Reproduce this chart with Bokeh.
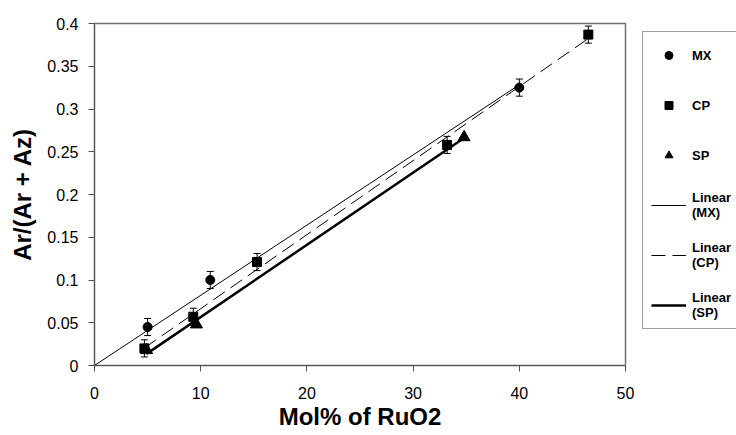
import numpy as np
from bokeh.plotting import figure
from bokeh.layouts import row
from bokeh.models import (ColumnDataSource, Whisker, Legend, LegendItem, FixedTicker,
                          NumeralTickFormatter, TeeHead, Range1d)
from bokeh.embed import file_html
from bokeh.resources import INLINE

# ---- data ----
mx_x = [5.0, 10.9, 40.0]
mx_y = [0.045, 0.100, 0.325]
mx_err = [0.010, 0.010, 0.010]

cp_x = [4.7, 9.3, 15.3, 33.2, 46.5]
cp_y = [0.020, 0.057, 0.121, 0.258, 0.387]
cp_err = [0.010, 0.010, 0.010, 0.010, 0.010]

sp_x = [4.9, 9.6, 34.8]
sp_y = [0.018, 0.048, 0.267]

x_ticks = [0, 10, 20, 30, 40, 50]
y_ticks = [0, 0.05, 0.1, 0.15, 0.2, 0.25, 0.3, 0.35, 0.4]

series_names = ["MX", "CP", "SP"]
fit_names = ["Linear\n(MX)", "Linear\n(CP)", "Linear\n(SP)"]

FONT = "Liberation Sans"

W, H = 736, 435
MAIN_W = 641

p = figure(width=MAIN_W, height=H, output_backend="svg", toolbar_location=None,
           x_range=Range1d(0, 50), y_range=Range1d(0, 0.4),
           min_border_left=94, min_border_right=MAIN_W - 625,
           min_border_top=23, min_border_bottom=H - 365)

p.xgrid.visible = False
p.ygrid.visible = False
p.outline_line_color = "#707070"
p.outline_line_width = 1.5

# axes
p.xaxis.ticker = FixedTicker(ticks=x_ticks)
p.yaxis.ticker = FixedTicker(ticks=y_ticks)
p.yaxis.formatter = NumeralTickFormatter(format="0.[00]")
for ax in (p.xaxis[0], p.yaxis[0]):
    ax.axis_line_color = "#505050"
    ax.major_tick_line_color = "#505050"
    ax.major_tick_in = 0
    ax.major_tick_out = 6
    ax.minor_tick_line_color = None
    ax.major_label_text_font = FONT
    ax.major_label_text_font_size = "16px"
    ax.major_label_text_color = "black"
    ax.axis_label_text_font = FONT
    ax.axis_label_text_font_size = "24px"
    ax.axis_label_text_font_style = "bold"
    ax.axis_label_text_color = "black"
p.xaxis.axis_label = "Mol% of RuO2"
p.yaxis.axis_label = "Ar/(Ar + Az)"
p.xaxis.major_label_standoff = 15
p.xaxis.axis_label_standoff = 1
p.yaxis.major_label_standoff = 10
p.yaxis.axis_label_standoff = 8

# trend lines (least-squares fits of the data)
mx_slope = float(np.dot(mx_x, mx_y) / np.dot(mx_x, mx_x))  # forced through origin
lx_mx = [0.0, max(mx_x)]
ly_mx = [mx_slope * v for v in lx_mx]
cp_fit = np.polyfit(cp_x, cp_y, 1)
lx_cp = [min(cp_x), max(cp_x)]
ly_cp = list(np.polyval(cp_fit, lx_cp))
sp_fit = np.polyfit(sp_x, sp_y, 1)
lx_sp = [min(sp_x), max(sp_x)]
ly_sp = list(np.polyval(sp_fit, lx_sp))

line_styles = [dict(line_width=1), dict(line_width=1, line_dash="14 7"), dict(line_width=2.5)]

p.line(lx_mx, ly_mx, line_color="black", **line_styles[0])
p.line(lx_cp, ly_cp, line_color="black", **line_styles[1])
p.line(lx_sp, ly_sp, line_color="black", **line_styles[2])

# error bars
for xs, ys, es in ((mx_x, mx_y, mx_err), (cp_x, cp_y, cp_err)):
    src = ColumnDataSource(dict(x=xs, lo=[a - b for a, b in zip(ys, es)],
                                hi=[a + b for a, b in zip(ys, es)]))
    w = Whisker(source=src, base="x", lower="lo", upper="hi", dimension="height",
                line_color="black", line_width=1,
                upper_head=TeeHead(size=7, line_color="black", line_width=1),
                lower_head=TeeHead(size=7, line_color="black", line_width=1))
    p.add_layout(w)

markers = [("circle", 9), ("square", 9), ("triangle", 12)]
for (mk, sz), xs, ys in zip(markers, (mx_x, cp_x, sp_x), (mx_y, cp_y, sp_y)):
    p.scatter(xs, ys, marker=mk, size=sz, color="black")

# ---- legend panel (separate, narrow figure so the box runs off the right edge) ----
# its renderers are legend proxies that hold the first point of each series,
# which lies outside this panel's range and so is never drawn there.
lg = figure(width=W - MAIN_W, height=H, output_backend="svg", toolbar_location=None,
            x_range=Range1d(100, 101), y_range=Range1d(100, 101),
            min_border=0, x_axis_type=None, y_axis_type=None)
lg.xgrid.visible = False
lg.ygrid.visible = False
lg.outline_line_color = None

items = []
for (mk, sz), name, xs, ys in zip(markers, series_names, (mx_x, cp_x, sp_x), (mx_y, cp_y, sp_y)):
    r = lg.scatter(xs[:1], ys[:1], marker=mk, size=sz - 1, color="black")
    items.append(LegendItem(label=name, renderers=[r]))
for st, name, lx, ly in zip(line_styles, fit_names, (lx_mx, lx_cp, lx_sp), (ly_mx, ly_cp, ly_sp)):
    r = lg.line(lx, ly, line_color="black", **st)
    items.append(LegendItem(label=name, renderers=[r]))

legend = Legend(items=items, location=(1, 36), margin=0)
legend.padding = 8
legend.spacing = 20
legend.label_height = 30
legend.label_width = 100
legend.glyph_height = 20
legend.glyph_width = 35
legend.label_standoff = 6
legend.label_text_font = FONT
legend.label_text_font_size = "13px"
legend.label_text_font_style = "bold"
legend.label_text_line_height = 1.1
legend.label_text_color = "black"
legend.border_line_color = "#404040"
legend.border_line_width = 1
legend.background_fill_alpha = 1
lg.add_layout(legend)

layout = row(p, lg, spacing=0)
open("out.html", "w").write(file_html(layout, INLINE))
